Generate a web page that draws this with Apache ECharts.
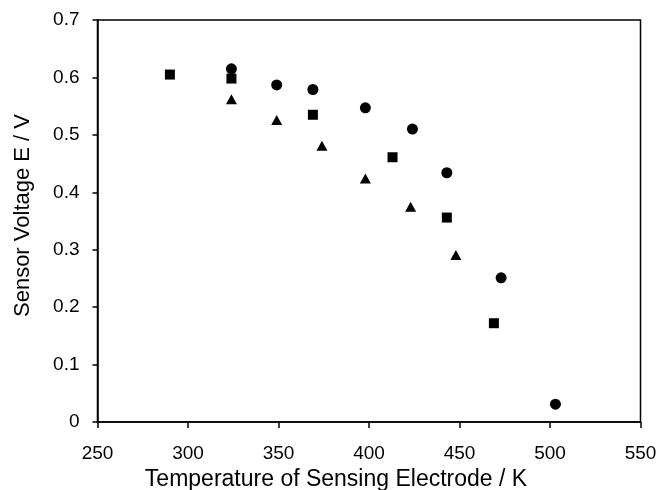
<!DOCTYPE html>
<html>
<head>
<meta charset="utf-8">
<script src="https://cdn.jsdelivr.net/npm/echarts@6/dist/echarts.min.js"></script>
<style>html,body{margin:0;padding:0;background:#fff}#c{width:667px;height:490px}</style>
</head>
<body>
<div id="c"></div>
<script>
// Data (x: temperature / K, y: sensor voltage / V)
const squareX = [290, 324, 369, 413, 443, 469];
const squareY = [0.605, 0.598, 0.535, 0.461, 0.356, 0.172];
const circleX = [324, 349, 369, 398, 424, 443, 473, 503];
const circleY = [0.615, 0.587, 0.579, 0.547, 0.510, 0.434, 0.251, 0.031];
const triangleX = [324, 349, 374, 398, 423, 448];
const triangleY = [0.562, 0.526, 0.481, 0.424, 0.375, 0.291];
const xTitle = 'Temperature of Sensing Electrode / K';
const yTitle = 'Sensor Voltage E / V';

const zip = (xs, ys) => xs.map((x, i) => [x, ys[i]]);
const font = 'Liberation Sans, Arial, sans-serif';
const mark = {color: '#000', opacity: 1};

const chart = echarts.init(document.getElementById('c'), null, {renderer: 'canvas'});
chart.setOption({
  animation: false,
  backgroundColor: '#fff',
  grid: {left: 97.5, right: 26.5, top: 20, bottom: 68, outerBoundsMode: 'none', containLabel: false,
         show: true, borderColor: '#000', borderWidth: 1.5, backgroundColor: 'transparent'},
  xAxis: {
    type: 'value', min: 250, max: 550, interval: 50,
    name: xTitle, nameLocation: 'middle', nameGap: 42,
    nameTextStyle: {fontFamily: font, fontSize: 23, color: '#000', padding: [0, 66, 0, 0]},
    axisLine: {show: true, lineStyle: {color: '#000', width: 1.5}},
    axisTick: {show: true, length: 6, lineStyle: {color: '#000', width: 1.5}},
    axisLabel: {fontFamily: font, fontSize: 19, color: '#000', margin: 22},
    splitLine: {show: false}
  },
  yAxis: {
    type: 'value', min: 0, max: 0.7, interval: 0.1,
    name: yTitle, nameLocation: 'middle', nameGap: 64,
    nameTextStyle: {fontFamily: font, fontSize: 22, color: '#000', padding: [0, 0, 0, 11]},
    axisLine: {show: true, lineStyle: {color: '#000', width: 1.5}},
    axisTick: {show: true, length: 5, lineStyle: {color: '#000', width: 1.5}},
    axisLabel: {fontFamily: font, fontSize: 19, color: '#000', margin: 18},
    splitLine: {show: false}
  },
  series: [
    {type: 'scatter', symbol: 'rect', symbolSize: 10, itemStyle: mark, data: zip(squareX, squareY)},
    {type: 'scatter', symbol: 'circle', symbolSize: 11, itemStyle: mark, data: zip(circleX, circleY)},
    {type: 'scatter', symbol: 'triangle', symbolSize: [11, 10], itemStyle: mark, data: zip(triangleX, triangleY)}
  ]
});
</script>
</body>
</html>
